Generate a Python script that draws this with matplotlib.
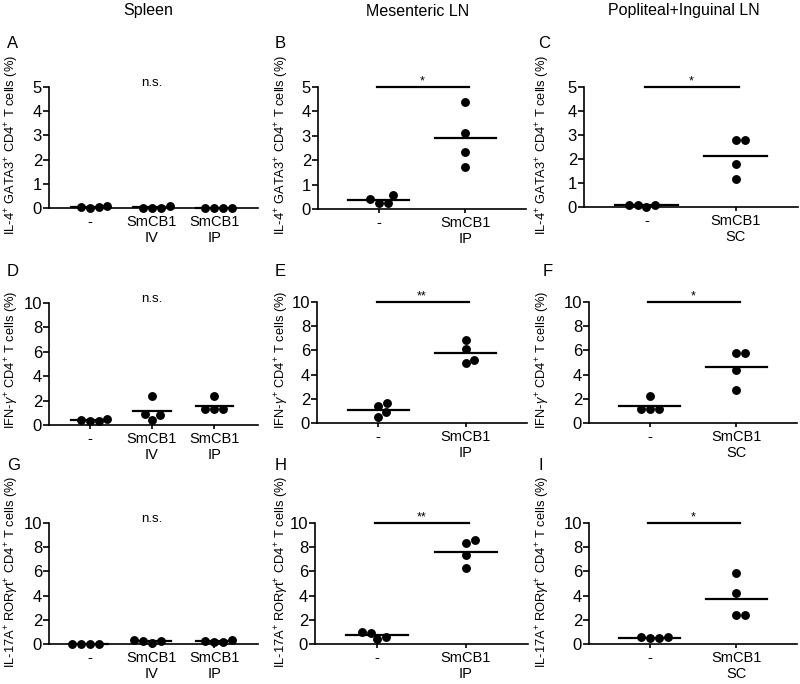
import numpy as np
import matplotlib
matplotlib.use("Agg")
import matplotlib.pyplot as plt

plt.rcParams['font.family'] = ['Liberation Sans', 'DejaVu Sans']
plt.rcParams['mathtext.fontset'] = 'custom'
plt.rcParams['mathtext.rm'] = 'Liberation Sans'
plt.rcParams['mathtext.it'] = 'Liberation Sans:italic'

# --- data ---
groups_spleen = ['-', 'SmCB1\nIV', 'SmCB1\nIP']
groups_mln = ['-', 'SmCB1\nIP']
groups_pln = ['-', 'SmCB1\nSC']

col_titles = ['Spleen', 'Mesenteric LN', 'Popliteal+Inguinal LN']
panel_letters = ['A', 'B', 'C', 'D', 'E', 'F', 'G', 'H', 'I']

ylabel_il4 = r'IL-4$^{+}$ GATA3$^{+}$ CD4$^{+}$ T cells (%)'
ylabel_ifng = r'IFN-$\gamma^{+}$ CD4$^{+}$ T cells (%)'
ylabel_il17 = r'IL-17A$^{+}$ ROR$\gamma$t$^{+}$ CD4$^{+}$ T cells (%)'

il4_spleen = [[0.04, 0.01, 0.04, 0.09], [0.01, 0.01, 0.02, 0.08], [0.0, 0.0, 0.0, 0.01]]
il4_mln = [[0.39, 0.26, 0.26, 0.57], [4.38, 3.11, 2.35, 1.73]]
il4_pln = [[0.10, 0.02, 0.09, 0.10], [2.80, 2.80, 1.78, 1.17]]

ifng_spleen = [[0.45, 0.30, 0.30, 0.50], [2.35, 0.90, 0.80, 0.40], [2.35, 1.35, 1.35, 1.30]]
ifng_mln = [[1.67, 1.39, 0.89, 0.50], [6.85, 6.08, 5.20, 4.93]]
ifng_pln = [[2.25, 1.15, 1.15, 1.15], [5.79, 5.79, 4.35, 2.70]]

il17_spleen = [[0.02, 0.0, 0.01, 0.02], [0.25, 0.10, 0.22, 0.33], [0.22, 0.14, 0.19, 0.30]]
il17_mln = [[0.93, 0.41, 0.55, 0.96], [8.38, 8.57, 7.33, 6.24]]
il17_pln = [[0.58, 0.47, 0.47, 0.58], [5.88, 4.18, 2.39, 2.39]]

sig_il4 = ['n.s.', '*', '*']
sig_ifng = ['n.s.', '**', '*']
sig_il17 = ['n.s.', '**', '*']

ymax_il4, ystep_il4 = 5, 1
ymax_other, ystep_other = 10, 2

# --- layout in pixels: left, right, top, bottom ---
W, H = 800, 684
boxes = [(49, 258, 87, 208), (318, 526, 87, 209), (584, 798, 87, 207),
         (49, 258, 303, 425), (317, 527, 302, 423), (589, 797, 302, 423),
         (49, 258, 523, 644), (315, 528, 523, 644), (589, 797, 523, 644)]
letter_pos = [(7, 44), (275, 44), (538, 44),
              (7, 272), (275, 272), (543, 272),
              (7, 466), (275, 466), (538, 466)]
ylabel_x = [12, 282, 543]
ylabel_y = [145, 360, 572]
title_pos = [(148, 11), (418, 11), (684, 11)]

DOT = 9.0  # dot diameter in px


def swarm(vals, px_x, px_y, d):
    order = np.argsort(vals, kind='stable')
    placed = []
    offs = np.zeros(len(vals))
    for i in order:
        y = vals[i] * px_y
        cands = [0.0]
        for px, py in placed:
            dy = abs(y - py)
            if dy < d:
                dx = np.sqrt(d * d - dy * dy)
                cands += [px + dx, px - dx]
        cands.sort(key=abs)
        for c in cands:
            if all((c - px) ** 2 + (y - py) ** 2 >= d * d - 1e-6 for px, py in placed):
                break
        placed.append((c, y))
        offs[i] = c / px_x
    return offs


fig = plt.figure(figsize=(W / 100, H / 100), dpi=100)

rows = [
    (ylabel_il4, [il4_spleen, il4_mln, il4_pln], sig_il4, ymax_il4, ystep_il4),
    (ylabel_ifng, [ifng_spleen, ifng_mln, ifng_pln], sig_ifng, ymax_other, ystep_other),
    (ylabel_il17, [il17_spleen, il17_mln, il17_pln], sig_il17, ymax_other, ystep_other),
]
col_groups = [groups_spleen, groups_mln, groups_pln]

for r, (ylab, datasets, sigs, ymax, ystep) in enumerate(rows):
    for c in range(3):
        k = r * 3 + c
        l, rt, t, b = boxes[k]
        ax = fig.add_axes([l / W, 1 - b / H, (rt - l) / W, (b - t) / H])
        groups = col_groups[c]
        data = datasets[c]
        n = len(groups)
        if n == 3:
            xlim = (-0.65, 2.7)
            half = 0.3
        else:
            xlim = (-0.7, 1.7)
            half = 0.35
        ax.set_xlim(*xlim)
        ax.set_ylim(0, ymax)
        px_x = (rt - l) / (xlim[1] - xlim[0])
        px_y = (b - t) / ymax

        for g, vals in enumerate(data):
            vals = np.array(vals)
            offs = swarm(vals, px_x, px_y, DOT)
            ax.plot(g + offs, vals, 'o', color='black', markersize=6.4,
                    markeredgewidth=0, clip_on=False, zorder=4)
            m = vals.mean()
            ax.plot([g - half, g + half], [m, m], color='black', lw=1.6,
                    clip_on=False, zorder=3)

        sig = sigs[c]
        if sig == 'n.s.':
            ax.annotate(sig, (1, ymax), xytext=(0, 1), textcoords='offset points',
                        ha='center', va='baseline', fontsize=9.5, annotation_clip=False)
        else:
            ax.plot([-0.02, 1.04], [ymax, ymax], color='black', lw=1.6, clip_on=False)
            ax.annotate(sig, (0.5, ymax), xytext=(0, 0), textcoords='offset points',
                        ha='center', va='bottom', fontsize=9, annotation_clip=False)

        for s in ['top', 'right']:
            ax.spines[s].set_visible(False)
        for s in ['left', 'bottom']:
            ax.spines[s].set_linewidth(1.2)
        ax.set_yticks(np.arange(0, ymax + 0.1, ystep))
        ax.set_xticks(range(n))
        ax.set_xticklabels(groups, fontsize=10.5, linespacing=1.2)
        ax.tick_params(axis='y', labelsize=12, length=4, width=1.2, pad=1)
        ax.tick_params(axis='x', length=3, width=1.2, pad=2)

        fig.text(ylabel_x[c] / W, 1 - ylabel_y[r] / H, ylab, rotation=90,
                 ha='center', va='center', fontsize=9.3)

        lx, ly = letter_pos[k]
        fig.text(lx / W, 1 - ly / H, panel_letters[k], fontsize=12,
                 ha='left', va='center')

for (tx, ty), title in zip(title_pos, col_titles):
    fig.text(tx / W, 1 - ty / H, title, fontsize=11.5, ha='center', va='center')

fig.savefig('out.png', dpi=100)
